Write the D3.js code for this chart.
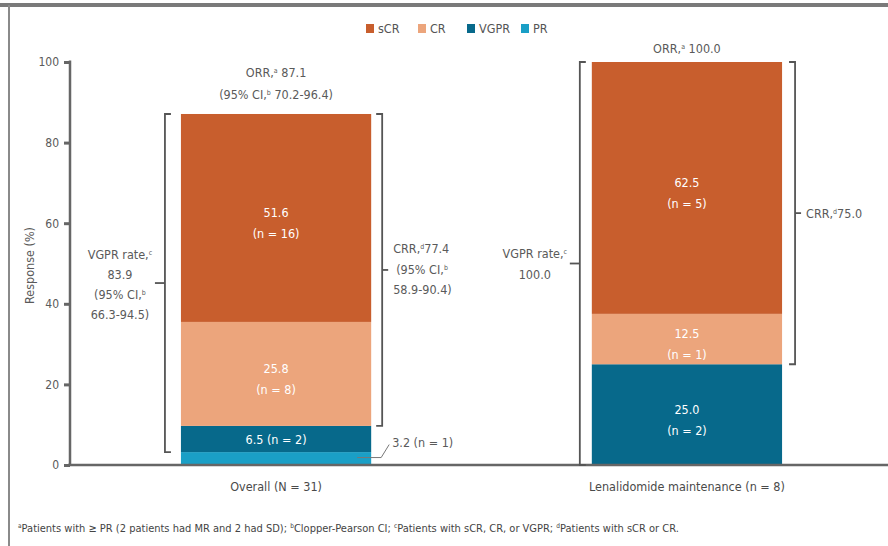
<!DOCTYPE html>
<html>
<head>
<meta charset="utf-8">
<script src="https://cdn.jsdelivr.net/npm/d3@7"></script>
<style>
  html, body { margin: 0; padding: 0; background: #fff; }
  svg { display: block; }
  text { font-family: "DejaVu Sans Condensed", "DejaVu Sans", sans-serif; font-stretch: condensed; }
</style>
</head>
<body>
<svg id="chart" width="888" height="546"></svg>
<script>
// Response categories, stacked bottom to top
const responses = ["PR", "VGPR", "CR", "sCR"];
const legendOrder = ["sCR", "CR", "VGPR", "PR"];
const colors = { sCR: "#c85e2d", CR: "#eca57c", VGPR: "#07698b", PR: "#1a9fc6" };

// Patient groups
const groups = ["Overall (N = 31)", "Lenalidomide maintenance (n = 8)"];

// Percent of patients in each response category, per group
const pctPR   = [3.2, 0];
const pctVGPR = [6.5, 25.0];
const pctCR   = [25.8, 12.5];
const pctSCR  = [51.6, 62.5];

// Patient counts per category, per group
const nPR   = [1, 0];
const nVGPR = [2, 2];
const nCR   = [8, 1];
const nSCR  = [16, 5];

// Summary rates
const orr      = ["87.1", "100.0"];
const orrCI    = ["70.2-96.4", null];
const vgprRate = ["83.9", "100.0"];
const vgprCI   = ["66.3-94.5", null];
const crr      = ["77.4", "75.0"];
const crrCI    = ["58.9-90.4", null];

const yTicks = [0, 20, 40, 60, 80, 100];

const footnote = [
  ["a", "Patients with \u2265 PR (2 patients had MR and 2 had SD); "],
  ["b", "Clopper-Pearson CI; "],
  ["c", "Patients with sCR, CR, or VGPR; "],
  ["d", "Patients with sCR or CR."]
];

const pct = { PR: pctPR, VGPR: pctVGPR, CR: pctCR, sCR: pctSCR };
const cnt = { PR: nPR, VGPR: nVGPR, CR: nCR, sCR: nSCR };

const svg = d3.select("#chart");
const axisColor = "#666";
const textColor = "#5a5a5a";

// Frame
svg.append("line").attr("x1", 0).attr("x2", 888).attr("y1", 5).attr("y2", 5)
  .attr("stroke", "#7a7a7a").attr("stroke-width", 4);
svg.append("line").attr("x1", 9).attr("x2", 9).attr("y1", 5).attr("y2", 546)
  .attr("stroke", "#8a8a8a").attr("stroke-width", 2);

const y = d3.scaleLinear().domain([0, 100]).range([465, 62]);
const x = d3.scaleBand().domain(groups).range([70, 893])
  .paddingInner(0.537).paddingOuter(0.27);

// Stacked data
const rows = groups.map((g, i) => {
  const r = { group: g, i };
  responses.forEach(k => r[k] = pct[k][i]);
  return r;
});
const stack = d3.stack().keys(responses)(rows);

// Bars
const layer = svg.append("g").selectAll("g").data(stack).join("g")
  .attr("fill", d => colors[d.key]);
layer.selectAll("rect").data(d => d.map(s => ({ key: d.key, s })))
  .join("rect")
  .attr("x", d => x(d.s.data.group))
  .attr("width", x.bandwidth())
  .attr("y", d => y(d.s[1]))
  .attr("height", d => y(d.s[0]) - y(d.s[1]));

// Axes
const yAxis = svg.append("g").attr("transform", "translate(70,0)")
  .call(d3.axisLeft(y).tickValues(yTicks).tickSize(6).tickPadding(5).tickFormat(d3.format("d")));
yAxis.select(".domain").remove();
yAxis.selectAll(".tick line").attr("stroke", axisColor).attr("stroke-width", 3);
yAxis.selectAll(".tick text").attr("font-size", 12).attr("fill", textColor)
  .style("font-family", null);
svg.append("line").attr("x1", 70).attr("x2", 70).attr("y1", y(100) - 1.5).attr("y2", y(0) + 1)
  .attr("stroke", axisColor).attr("stroke-width", 2.5);
svg.append("line").attr("x1", 68).attr("x2", 888).attr("y1", y(0)).attr("y2", y(0))
  .attr("stroke", axisColor).attr("stroke-width", 2.5);

const xAxis = svg.append("g").attr("transform", `translate(0,${y(0)})`)
  .call(d3.axisBottom(x).tickSize(0).tickPadding(17));
xAxis.select(".domain").remove();
xAxis.selectAll(".tick text").attr("font-size", 12.5).attr("fill", "#4a4a4a")
  .style("font-family", null);

// Y axis title
svg.append("text")
  .attr("transform", `translate(34,${(y(0) + y(100)) / 2 + 2}) rotate(-90)`)
  .attr("text-anchor", "middle").attr("font-size", 12.5).attr("fill", textColor)
  .text("Response (%)");

// Helper: text line with superscript footnote marks
function richText(g, parts, attrs) {
  const t = g.append("text").attr("fill", textColor);
  Object.entries(attrs).forEach(([k, v]) => t.attr(k, v));
  parts.forEach(p => {
    if (typeof p === "object") {
      t.append("tspan").attr("font-size", 7).attr("baseline-shift", "super").text(p.sup);
    } else {
      t.append("tspan").text(p);
    }
  });
  return t;
}

// Labels inside bar segments
const segLabels = svg.append("g");
stack.forEach(layerData => {
  layerData.forEach((s, i) => {
    const k = layerData.key;
    const v = s[1] - s[0];
    if (v <= 0 || k === "PR") return;
    const cx = x(s.data.group) + x.bandwidth() / 2;
    const mid = (y(s[0]) + y(s[1])) / 2;
    const h = y(s[0]) - y(s[1]);
    const g = segLabels.append("g").attr("font-size", 12.5).attr("text-anchor", "middle")
      .attr("fill", "#fff");
    if (h < 35) {
      g.append("text").attr("x", cx).attr("y", mid + 4.5).text(`${v.toFixed(1)} (n = ${cnt[k][i]})`);
    } else {
      g.append("text").attr("x", cx).attr("y", mid - 1).text(v.toFixed(1));
      g.append("text").attr("x", cx).attr("y", mid + 20).text(`(n = ${cnt[k][i]})`);
    }
  });
});

// PR callout for the overall group
{
  const i = 0;
  const x1 = x(groups[i]) + x.bandwidth();
  const yy = y(pctPR[i] / 2) - 1;
  svg.append("path")
    .attr("d", `M${x1 - 14},${yy} L${x1 + 10},${yy} L${x1 + 18},${yy - 13}`)
    .attr("fill", "none").attr("stroke", "#777").attr("stroke-width", 1);
  svg.append("text").attr("x", x1 + 21).attr("y", yy - 11).attr("font-size", 12.5)
    .attr("fill", textColor)
    .text(`${pctPR[i].toFixed(1)} (n = ${nPR[i]})`);
}

// Brackets
function bracket(xPos, y0, y1, side, tickLen) {
  // side -1: bracket sits left of a bar; +1: right of a bar
  const tip = 6 * -side;
  svg.append("path")
    .attr("d", `M${xPos + tip},${y0} L${xPos},${y0} L${xPos},${y1} L${xPos + tip},${y1}`)
    .attr("fill", "none").attr("stroke", "#555").attr("stroke-width", 1.8);
  const m = (y0 + y1) / 2;
  svg.append("line").attr("x1", xPos).attr("x2", xPos + side * tickLen)
    .attr("y1", m).attr("y2", m).attr("stroke", "#555").attr("stroke-width", 1.8);
  return m;
}

const ann = svg.append("g").attr("font-size", 12.5);
const leftOff = [16, 12];
const rightOff = [11, 13];
groups.forEach((g, i) => {
  const bx0 = x(g), bx1 = x(g) + x.bandwidth(), cx = bx0 + x.bandwidth() / 2;
  const total = pctPR[i] + pctVGPR[i] + pctCR[i] + pctSCR[i];
  const vgprBottom = pctPR[i];
  const crrBottom = pctPR[i] + pctVGPR[i];

  // VGPR-or-better bracket
  const lx = bx0 - leftOff[i];
  const lm = bracket(lx, y(total), y(vgprBottom), -1, 10);
  // CR-or-better bracket
  const rx = bx1 + rightOff[i];
  const rm = bracket(rx, y(total), y(crrBottom), 1, 6);

  // ORR label above the bar
  if (orrCI[i]) {
    richText(ann, ["ORR,", { sup: "a" }, " " + orr[i]], { x: cx, y: y(total) - 37, "text-anchor": "middle" });
    richText(ann, ["(95% CI,", { sup: "b" }, " " + orrCI[i] + ")"], { x: cx, y: y(total) - 15, "text-anchor": "middle" });
  } else {
    richText(ann, ["ORR,", { sup: "a" }, " " + orr[i]], { x: cx, y: y(total) - 9, "text-anchor": "middle" });
  }

  // VGPR rate label left of the bracket
  const vx = lx - 45;
  if (vgprCI[i]) {
    richText(ann, ["VGPR rate,", { sup: "c" }], { x: vx, y: lm - 24, "text-anchor": "middle" });
    richText(ann, [vgprRate[i]], { x: vx, y: lm - 4, "text-anchor": "middle" });
    richText(ann, ["(95% CI,", { sup: "b" }], { x: vx, y: lm + 16, "text-anchor": "middle" });
    richText(ann, [vgprCI[i] + ")"], { x: vx, y: lm + 36, "text-anchor": "middle" });
  } else {
    richText(ann, ["VGPR rate,", { sup: "c" }], { x: vx, y: lm - 6, "text-anchor": "middle" });
    richText(ann, [vgprRate[i]], { x: vx, y: lm + 15, "text-anchor": "middle" });
  }

  // CRR label right of the bracket
  const tx = rx + 11;
  if (crrCI[i]) {
    richText(ann, ["CRR,", { sup: "d" }, crr[i]], { x: tx, y: rm - 17 });
    richText(ann, ["(95% CI,", { sup: "b" }], { x: tx + 3, y: rm + 4 });
    richText(ann, [crrCI[i] + ")"], { x: tx, y: rm + 24 });
  } else {
    richText(ann, ["CRR,", { sup: "d" }, crr[i]], { x: tx, y: rm + 5 });
  }
});

// Legend
const legendX = [366, 418, 467, 521];
const lg = svg.append("g").attr("font-size", 12.5);
legendOrder.forEach((k, j) => {
  const gi = lg.append("g").attr("transform", `translate(${legendX[j]},24)`);
  gi.append("rect").attr("width", 8).attr("height", 9).attr("fill", colors[k]);
  gi.append("text").attr("x", 12).attr("y", 9).attr("fill", "#555").text(k);
});

// Footnote
const fn = svg.append("text").attr("x", 18).attr("y", 532).attr("font-size", 11).attr("fill", "#444");
footnote.forEach(([mark, txt]) => {
  fn.append("tspan").attr("font-size", 6.5).attr("baseline-shift", "super").text(mark);
  fn.append("tspan").text(txt);
});
</script>
</body>
</html>
